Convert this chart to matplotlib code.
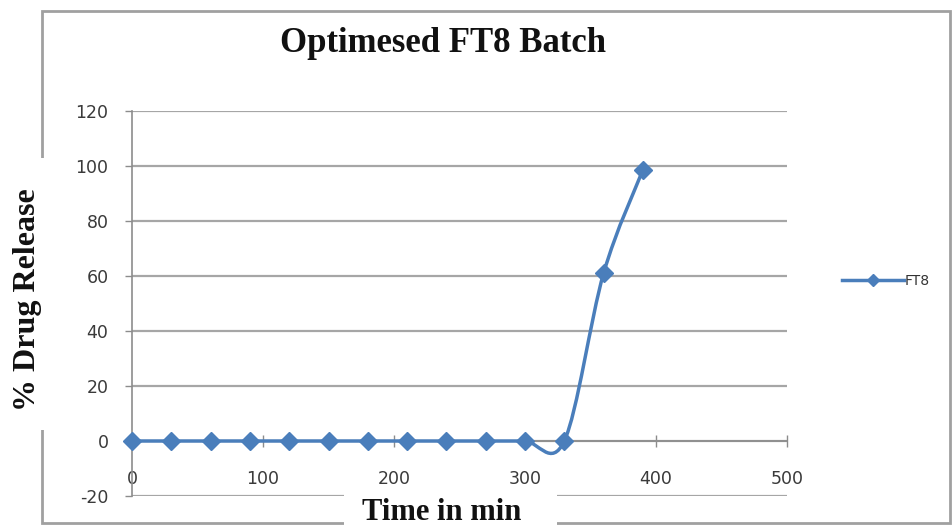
import numpy as np
import matplotlib
matplotlib.use("Agg")
import matplotlib.pyplot as plt
from matplotlib.path import Path
from matplotlib.patches import PathPatch, Rectangle
from matplotlib.lines import Line2D

plt.rcParams["axes.unicode_minus"] = False
plt.rcParams["font.family"] = ["DejaVu Sans"]

# ---- data ----
time_min = [0, 30, 60, 90, 120, 150, 180, 210, 240, 270, 300, 330, 360, 390]
release_ft8 = [0, 0, 0, 0, 0, 0, 0, 0, 0, 0, 0, 0, 61, 98.6]
series_name = "FT8"
title = "Optimesed FT8 Batch"
xlabel = "Time in min"
ylabel = "% Drug Release"
xticks = [0, 100, 200, 300, 400, 500]
yticks = [-20, 0, 20, 40, 60, 80, 100, 120]

W, H = 953, 527
fig = plt.figure(figsize=(W / 100, H / 100), dpi=100)
fig.patch.set_facecolor("white")

def fx(px):
    return px / W

def fy(py):
    return 1 - py / H

ax = fig.add_axes([fx(132), fy(496), fx(787) - fx(132), fy(111) - fy(496)])
ax.set_xlim(0, 500)
ax.set_ylim(-20, 120)
ax.set_xticks(xticks)
ax.set_yticks(yticks)

blue = "#4a7ebb"
grid_c = "#a6a6a6"

# Excel-style smoothed line (Bezier through the points)
P = np.column_stack([time_min, release_ft8]).astype(float)
n = len(P)
verts = [tuple(P[0])]
codes = [Path.MOVETO]
for i in range(n - 1):
    p0 = P[i - 1] if i > 0 else P[i]
    p1 = P[i]
    p2 = P[i + 1]
    p3 = P[i + 2] if i + 2 < n else P[i + 1]
    c1 = p1 + (p2 - p0) / 6.0
    c2 = p2 - (p3 - p1) / 6.0
    verts += [tuple(c1), tuple(c2), tuple(p2)]
    codes += [Path.CURVE4] * 3
ax.add_patch(PathPatch(Path(verts, codes), facecolor="none", edgecolor=blue,
                       lw=2.5, zorder=3, capstyle="round", joinstyle="round"))
ax.plot(time_min, release_ft8, linestyle="none", marker="D", markersize=9,
        color=blue, zorder=4, clip_on=False)

# grid
ax.yaxis.grid(True, color=grid_c, lw=1.6)
ax.xaxis.grid(False)
ax.set_axisbelow(True)

for s in ["top", "right"]:
    ax.spines[s].set_visible(False)
ax.spines["left"].set_color("#8c8c8c")
ax.spines["left"].set_linewidth(1.2)
ax.spines["bottom"].set_position(("data", 0))
ax.spines["bottom"].set_color("#8c8c8c")
ax.spines["bottom"].set_linewidth(1.2)

ax.tick_params(axis="y", direction="out", length=5, width=1, color="#8c8c8c",
               pad=12, labelsize=12.5, labelcolor="#3a3a3a")
ax.tick_params(axis="x", direction="inout", length=8, width=1, color="#8c8c8c",
               pad=17, labelsize=12.5, labelcolor="#3a3a3a")

# outer chart border
fig.patches.append(Rectangle((fx(42), fy(523)), fx(950) - fx(42), fy(11) - fy(523),
                             transform=fig.transFigure, fill=False,
                             edgecolor="#a0a0a0", lw=2.0, zorder=1))
# white label backgrounds (cover border / lowest gridline)
fig.patches.append(Rectangle((fx(344), fy(527)), fx(557) - fx(344), fy(491) - fy(527),
                             transform=fig.transFigure, facecolor="white",
                             edgecolor="none", zorder=4))
fig.patches.append(Rectangle((fx(8), fy(430)), fx(54) - fx(8), fy(158) - fy(430),
                             transform=fig.transFigure, facecolor="white",
                             edgecolor="none", zorder=4))

serif = ["Liberation Serif", "DejaVu Serif"]
fig.text(fx(443), fy(43), title, ha="center", va="center", family=serif,
         fontweight="bold", fontsize=25, color="#111111")
fig.text(fx(442), fy(512), xlabel, ha="center", va="center", family=serif,
         fontweight="bold", fontsize=22, color="#111111", zorder=5)
fig.text(fx(28), fy(300), ylabel, ha="center", va="center", rotation=90,
         family=serif, fontweight="bold", fontsize=23, color="#111111", zorder=5)

# legend
handle = Line2D([], [], color=blue, lw=2.5, marker="D", markersize=6.5)
fig.legend([handle], [series_name], loc="center left",
           bbox_to_anchor=(fx(830), fy(281)), frameon=False, fontsize=10,
           handlelength=4.4, handletextpad=0.1, labelcolor="#333333")

fig.savefig("out.png", dpi=100, facecolor="white")
